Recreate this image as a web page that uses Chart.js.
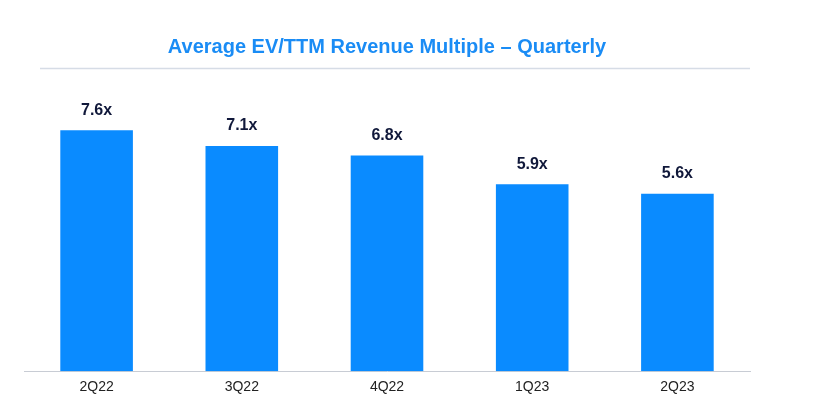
<!DOCTYPE html>
<html><head><script src="https://cdn.jsdelivr.net/npm/chart.js@4"></script>
<style>html,body{margin:0;background:#fff}#w{width:836px;height:418px}</style></head>
<body><div id="w"><canvas id="c"></canvas></div>
<script>
const categories = ["2Q22","3Q22","4Q22","1Q23","2Q23"];
const multiples = [7.6,7.1,6.8,5.9,5.6];
const titleText = "Average EV/TTM Revenue Multiple \u2013 Quarterly";

const deco = {
  id:'deco',
  afterDraw(chart){
    const {ctx, chartArea:a} = chart;
    ctx.save();
    ctx.fillStyle = '#1a8cf5';
    ctx.font = 'bold 20px Arial, "Liberation Sans", sans-serif';
    ctx.textAlign = 'center'; ctx.textBaseline = 'middle';
    ctx.fillText(titleText, 387, 47);
    ctx.strokeStyle = '#d6dce6'; ctx.lineWidth = 1.5;
    ctx.beginPath(); ctx.moveTo(40, 68.5); ctx.lineTo(750, 68.5); ctx.stroke();
    const meta = chart.getDatasetMeta(0);
    ctx.fillStyle = '#10183a';
    ctx.font = 'bold 16px Arial, "Liberation Sans", sans-serif';
    ctx.textBaseline = 'bottom';
    meta.data.forEach((b,i)=>ctx.fillText(multiples[i].toFixed(1)+'x', b.x, b.y - 12));
    ctx.restore();
  }
};

new Chart(document.getElementById('c'), {
  type:'bar',
  data:{labels:categories, datasets:[{data:multiples, backgroundColor:'#0a8bff', barPercentage:0.5, categoryPercentage:1}]},
  options:{
    responsive:true, maintainAspectRatio:false, animation:false,
    layout:{padding:{top:70,left:24,right:86,bottom:14}},
    plugins:{legend:{display:false}, tooltip:{enabled:false}},
    scales:{
      x:{grid:{display:false, drawTicks:false}, border:{color:'#c8ccd4'},
         ticks:{color:'#222', font:{size:14, family:'Arial, "Liberation Sans", sans-serif'}, padding:8}},
      y:{display:false, min:0, max:9.5}
    }
  },
  plugins:[deco]
});
</script></body></html>
